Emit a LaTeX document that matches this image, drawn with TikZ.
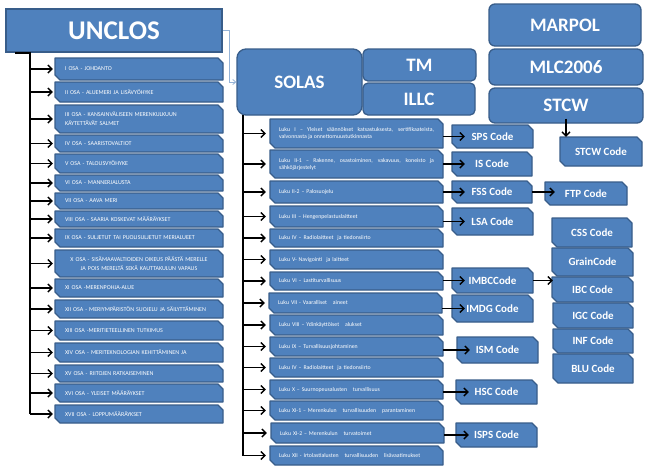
\documentclass[tikz,border=0pt]{standalone}
\usepackage{fontspec}
\setmainfont{Carlito}
\usetikzlibrary{arrows.meta}
\definecolor{bfill}{HTML}{4F81BD}
\definecolor{bline}{HTML}{385D8A}
\definecolor{lblue}{HTML}{95B3D7}
\tikzset{
  cbshape/.style={fill=bfill, draw=bline, line width=1.3pt, line join=round},
  boxtext/.style={inner sep=0pt, text=white, font=\bfseries\fontsize{11}{13}\selectfont},
  osatext/.style={inner sep=0pt, inner xsep=10pt, text width=148pt, text=white, align=left, font=\fontsize{6}{9}\selectfont},
  lukutext/.style={inner sep=0pt, inner xsep=9pt, text width=155pt, text=white, align=left, font=\fontsize{5.8}{7}\selectfont},
  arr/.style={draw=black, line width=1.4pt, -{Straight Barb[length=4pt,width=8pt]}},
  trunk/.style={draw=black, line width=1.4pt},
  lconn/.style={draw=lblue, line width=0.8pt, -{Straight Barb[length=3pt,width=5pt]}},
  rbox/.style={fill=bfill, draw=bline, line width=1.3pt, rounded corners=6pt, text=white, font=\bfseries\fontsize{19}{22}\selectfont, inner sep=0pt},
}
% chamfered box: [opts]{name}{x1}{y1}{x2}{y2}{text}
\newcommand\cbx[7][]{%
  \path[cbshape] (#3,#4) -- (#5-5,#4) -- (#5,#4+5) -- (#5,#6) -- (#3+5,#6) -- (#3,#6-5) -- cycle;
  \node[boxtext, minimum width={(#5-#3)*1pt}, minimum height={(#6-#4)*1pt}, #1] (#2) at ({(#3+#5)/2},{(#4+#6)/2}) {#7};
}
% rounded box
\newcommand\rbx[7][]{%
  \node[rbox, minimum width={(#5-#3)*1pt}, minimum height={(#6-#4)*1pt}, #1] (#2) at ({(#3+#5)/2},{(#4+#6)/2}) {#7};
}
\begin{document}
\begin{tikzpicture}[x=1pt,y=-1pt]
\useasboundingbox (0,0) rectangle (657,475);
\fill[white] (0,0) rectangle (657,475);

% top boxes
\rbx[rounded corners=0pt, font=\bfseries\fontsize{27}{30}\selectfont]{unclos}{6}{9}{222}{52}{UNCLOS}
\rbx[rounded corners=9pt]{solas}{237}{49}{362}{115}{SOLAS}
\rbx[rounded corners=5pt]{tm}{363}{49}{476}{81}{TM}
\rbx[rounded corners=5pt]{illc}{363}{83}{475}{115}{ILLC}
\rbx{marpol}{489}{4}{641}{46}{MARPOL}
\rbx{mlc}{489}{49}{643}{85}{MLC2006}
\rbx{stcw}{489}{88}{643}{123}{STCW}

% UNCLOS parts
\cbx[osatext]{o1}{55}{58}{223}{80}{I OSA - JOHDANTO}
\cbx[osatext]{o2}{55}{82}{223}{102}{II OSA - ALUEMERI JA LISÄVYÖHYKE}
\cbx[osatext]{o3}{55}{105}{223}{133}{III OSA - KANSAINVÄLISEEN MERENKULKUUN\\KÄYTETTÄVÄT SALMET}
\cbx[osatext]{o4}{55}{135}{223}{152}{IV OSA - SAARISTOVALTIOT}
\cbx[osatext]{o5}{55}{154}{223}{173}{V OSA - TALOUSVYÖHYKE}
\cbx[osatext]{o6}{55}{175}{223}{191}{VI OSA - MANNERJALUSTA}
\cbx[osatext]{o7}{55}{193}{223}{209}{VII OSA - AAVA MERI}
\cbx[osatext]{o8}{55}{211}{223}{227}{VIII OSA - SAARIA KOSKEVAT MÄÄRÄYKSET}
\cbx[osatext]{o9}{55}{229}{223}{247}{IX OSA - SULJETUT TAI PUOLISULJETUT MERIALUEET}
\cbx[osatext, align=center]{o10}{55}{250}{223}{277}{X OSA - SISÄMAAVALTIOIDEN OIKEUS PÄÄSTÄ MERELLE\\JA POIS MERELTÄ SEKÄ KAUTTAKULUN VAPAUS}
\cbx[osatext]{o11}{55}{279}{223}{297}{XI OSA -MERENPOHJA-ALUE}
\cbx[osatext]{o12}{55}{300}{223}{318}{XII OSA - MERIYMPÄRISTÖN SUOJELU JA SÄILYTTÄMINEN}
\cbx[osatext]{o13}{55}{321}{223}{340}{XIII OSA -MERITIETEELLINEN TUTKIMUS}
\cbx[osatext]{o14}{55}{343}{223}{362}{XIV OSA - MERITEKNOLOGIAN KEHITTÄMINEN JA}
\cbx[osatext]{o15}{55}{365}{223}{382}{XV OSA - RIITOJEN RATKAISEMINEN}
\cbx[osatext]{o16}{55}{384}{223}{402}{XVI OSA - YLEISET MÄÄRÄYKSET}
\cbx[osatext]{o17}{55}{405}{223}{423}{XVII OSA - LOPPUMÄÄRÄYKSET}

% SOLAS chapters
\cbx[lukutext, align=justify]{l1}{270}{119}{443}{148}{Luku I – Yleiset säännökset katsastuksesta, sertifikaateista,\linebreak valvonnasta ja onnettomuustutkinnasta}
\cbx[lukutext, align=justify]{l2}{270}{150}{443}{178}{Luku II-1 – Rakenne, osastoiminen, vakavuus, koneisto ja\linebreak sähköjärjestelyt}
\cbx[lukutext]{l3}{270}{181}{443}{203}{Luku II-2 – Palosuojelu}
\cbx[lukutext]{l4}{270}{206}{443}{227}{Luku III – Hengenpelastuslaitteet}
\cbx[lukutext]{l5}{270}{229}{443}{247}{Luku IV – Radiolaitteet\ \ ja tiedonsiirto}
\cbx[lukutext]{l6}{270}{250}{443}{269}{Luku V- Navigointi\ \ ja laitteet}
\cbx[lukutext]{l7}{270}{272}{443}{290}{Luku VI – Lastiturvallisuus}
\cbx[lukutext]{l8}{269}{293}{442}{313}{Luku VII - Vaaralliset\ \ \ aineet}
\cbx[lukutext]{l9}{270}{315}{443}{335}{Luku VIII – Ydinkäyttöiset\ \ \ alukset}
\cbx[lukutext]{l10}{270}{337}{443}{356}{Luku IX – Turvallisuusjohtaminen}
\cbx[lukutext]{l11}{270}{358}{443}{377}{Luku IV – Radiolaitteet\ \ ja tiedonsiirto}
\cbx[lukutext]{l12}{270}{380}{443}{399}{Luku X – Suurnopeusalusten\ \ \ turvallisuus}
\cbx[lukutext]{l13}{270}{401}{443}{420}{Luku XI-1 – Merenkulun\ \ \ turvallisuuden\ \ \ parantaminen}
\cbx[lukutext]{l14}{271}{423}{444}{443}{Luku XI-2 – Merenkulun\ \ \ turvatoimet}
\cbx[lukutext]{l15}{270}{446}{443}{465}{Luku XII - Irtolastialusten\ \ \ turvallisuuden\ \ \ lisävaatimukset}

% codes
\cbx{sps}{452}{125}{533}{148}{SPS Code}
\cbx{is}{452}{152}{532}{176}{IS Code}
\cbx{fss}{452}{181}{532}{203}{FSS Code}
\cbx{ftp}{545}{182}{627}{205}{FTP Code}
\cbx{lsa}{452}{208}{533}{235}{LSA Code}
\cbx{imbc}{452}{268}{533}{293}{IMBCCode}
\cbx{imdg}{452}{295}{533}{322}{IMDG Code}
\cbx{ism}{457}{337}{538}{363}{ISM Code}
\cbx{hsc}{456}{380}{537}{404}{HSC Code}
\cbx{isps}{456}{423}{537}{447}{ISPS Code}
\cbx{stcwc}{560}{137}{642}{166}{STCW Code}
\cbx{css}{552}{218}{632}{247}{CSS Code}
\cbx{grain}{552}{248}{633}{276}{GrainCode}
\cbx{ibc}{552}{277}{633}{302}{IBC Code}
\cbx{igc}{553}{303}{633}{328}{IGC Code}
\cbx{inf}{553}{329}{633}{353}{INF Code}
\cbx{blu}{553}{354}{633}{383}{BLU Code}

% UNCLOS tree
\coordinate (ut0) at (15,53);
\coordinate (ut) at (30,53);
\draw[trunk] (ut0) -- (ut) -- (ut |- o17.west);
\foreach \n in {o1,o2,o3,o4,o5,o6,o7,o8,o9,o10,o11,o12,o13,o14,o15,o16,o17}
  \draw[arr, shorten >=2pt] (ut |- \n.west) -- (\n.west);

% UNCLOS -> SOLAS
\draw[lconn] (unclos.east) -- ++(7,0) |- (solas.west);

% SOLAS tree
\coordinate (st) at (243,115);
\draw[trunk] (st) -- (st |- l15.west);
\foreach \n in {l1,l2,l3,l4,l5,l6,l7,l8,l9,l10,l11,l12,l13,l14,l15}
  \draw[arr, shorten >=4pt] (st |- \n.west) -- (\n.west);

% chapter -> code
\foreach \a/\b in {l1/sps,l2/is,l3/fss,l4/lsa,l7/imbc,l8/imdg,l10/ism,l12/hsc,l14/isps}
  \draw[arr] (\a.east |- \b.west) -- ([xshift=13pt]\b.west);
\draw[arr] (fss.east) -- ([xshift=10pt]ftp.west |- fss.east);
\draw[arr] (imbc.east) -- ([xshift=1pt]ibc.west |- imbc.east);
\draw[arr] ([yshift=5pt]stcw.south) -- (stcwc.north -| stcw.south);
\end{tikzpicture}
\end{document}
